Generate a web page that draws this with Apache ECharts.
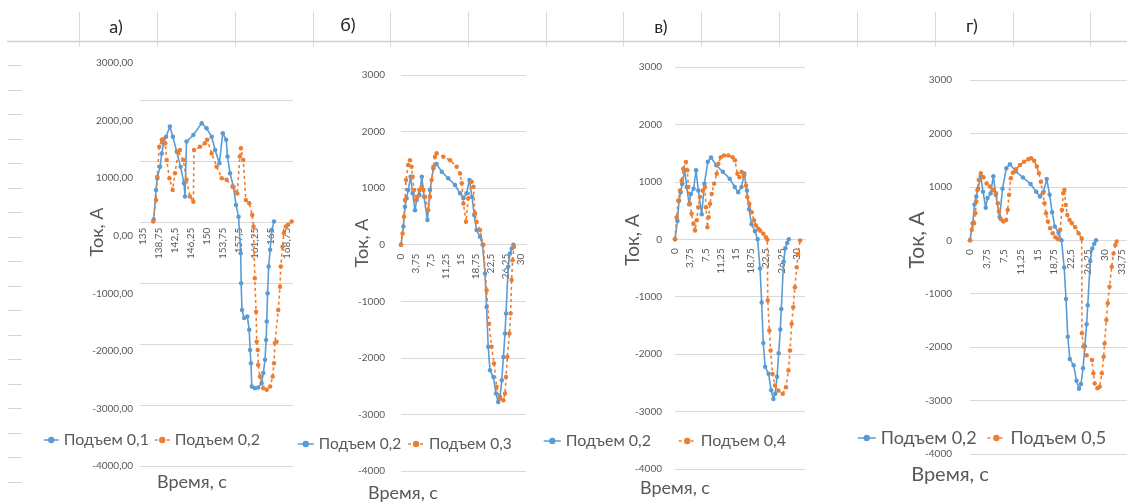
<!DOCTYPE html>
<html><head><meta charset="utf-8">
<script src="https://cdn.jsdelivr.net/npm/echarts@6/dist/echarts.min.js"></script>
<style>html,body{margin:0;padding:0;background:#fff}#c{width:1127px;height:502px}</style>
</head><body><div id="c"></div>
<script>
// ---------------- DATA ----------------
const panelLabels = ['а)', 'б)', 'в)', 'г)'];
const yTitle = 'Ток, А';
const xTitle = 'Время, с';
const yTicks = [-4000, -3000, -2000, -1000, 0, 1000, 2000, 3000];

// panel а): Подъем 0,1 and Подъем 0,2
const aName1 = 'Подъем 0,1';
const aTime1 = [137.5,138.05,138.35,139.0,139.4,139.8,140.4,141.3,142.0,142.9,143.8,144.6,144.85,145.2,146.8,148.75,149.9,151.1,151.9,152.9,153.7,154.5,154.8,155.4,156.2,156.8,157.4,157.9,158.0,158.2,158.7,159.45,159.9,160.1,160.3,160.5,161.25,162.0,162.8,163.2,163.6,163.85,164.0,164.2,164.45,164.8,165.2,165.7];
const aCur1  = [280,795,1000,1200,1430,1605,1720,1895,1720,1460,1200,910,680,1635,1750,1955,1865,1720,1490,1260,1780,1665,1375,1085,850,535,330,-305,-825,-1290,-1430,-1405,-1635,-1985,-2215,-2620,-2650,-2635,-2560,-2385,-2155,-1810,-1490,-1000,-535,-245,100,245];
const aName2 = 'Подъем 0,2';
const aTime2 = [137.4,138.05,138.35,138.8,139.4,139.75,140.2,140.55,141.2,141.95,142.5,143.25,143.65,144.45,145.2,146.0,146.8,146.95,148.35,149.5,150.05,151.1,152.25,153.45,154.6,156.0,157.1,157.7,157.95,158.5,159.1,159.9,160.6,160.9,161.2,161.5,161.65,161.9,162.0,162.4,163.2,164.0,164.8,165.4,165.7,165.9,166.3,166.7,167.1,167.3,167.7,168.0,168.5,169.0,169.85];
const aCur2  = [245,620,1025,1545,1665,1675,1605,1315,1000,795,1085,1460,1490,1315,970,680,590,1490,1545,1605,1665,1430,1200,1000,970,850,735,1375,1520,1315,620,565,360,160,-740,-1320,-1840,-1985,-2245,-2445,-2650,-2675,-2620,-2445,-2215,-1865,-1840,-1290,-885,-535,-190,45,160,190,245];

// Подъем 0,2 (common reference in б, в, г)
const refName = 'Подъем 0,2';
const refTime = [0,0.6,1.0,1.4,1.8,2.4,2.9,3.5,3.9,4.6,5.2,5.75,6.6,7.25,8.1,8.9,10.2,11.8,13.5,14.75,15.6,16.4,17.1,17.75,18.3,18.9,19.75,20.4,21.0,21.4,21.8,22.25,23.1,23.75,24.3,24.75,25.2,25.6,26.0,26.25,26.8,27.25,27.7,28.1];
const refCur  = [0,320,670,820,965,1200,910,610,790,880,1200,850,435,965,1350,1425,1290,1175,1055,910,820,910,1145,850,525,260,140,0,-510,-1100,-1805,-2220,-2340,-2630,-2780,-2690,-2395,-1985,-1570,-1215,-390,-155,-65,0];

// panel б): Подъем 0,3
const bName = 'Подъем 0,3';
const bTime = [0,0.4,0.75,1.0,1.25,1.8,2.25,2.65,2.9,3.25,3.6,4.1,4.6,5.2,5.6,6.0,6.8,7.25,7.65,8.1,8.5,8.9,10.6,12.25,13.9,14.75,15.2,15.6,16.25,16.8,17.65,18.1,18.5,18.9,19.75,20.6,21.4,22.0,22.65,23.25,23.9,24.75,25.6,26.0,26.25,26.6,27.1,27.4,27.65,27.9,28.25];
const bCur  = [0,200,495,790,1145,1410,1495,1380,1200,965,790,850,965,1025,965,850,610,850,1145,1380,1555,1615,1555,1495,1380,1260,1085,730,405,820,1115,1025,555,405,260,0,-805,-1395,-1805,-2100,-2515,-2720,-2750,-2630,-2340,-1985,-1570,-1215,-625,-275,-35];

// panel в): Подъем 0,4
const cName = 'Подъем 0,4';
const cTime = [0,0.4,0.8,1.25,1.65,2.05,2.7,3.05,3.3,3.7,4.1,4.55,4.95,5.35,5.75,6.15,6.85,7.4,7.65,8.0,8.3,8.65,9.05,9.65,10.3,10.7,11.3,12.1,13.15,14.25,14.8,15.4,15.9,16.45,17.05,17.55,17.85,18.35,18.95,19.5,20.0,20.55,21.0,21.8,22.45,22.8,22.9,23.3,23.6,24.1,24.7,25.5,26.6,27.4,28.0,28.4,28.8,29.2,29.6,30.05,30.4,30.9];
const cCur  = [0,385,675,850,1025,1230,1345,1200,910,620,445,270,155,330,560,735,850,910,560,210,385,620,790,965,1140,1315,1430,1460,1460,1430,1375,1140,1080,1170,1110,935,735,620,470,330,240,185,155,95,35,-10,-1065,-1590,-1935,-2345,-2545,-2635,-2690,-2575,-2285,-1935,-1470,-1185,-835,-485,-255,-20];

// panel г): Подъем 0,5
const dName = 'Подъем 0,5';
const dTime = [0,0.4,0.9,1.2,1.4,1.65,1.95,2.4,3.0,3.7,4.45,5.2,5.8,6.2,6.45,6.9,7.45,8.05,8.4,8.7,9.1,9.55,10.25,11.15,12.05,13.0,13.6,14.3,14.9,15.35,15.8,16.2,16.6,16.95,17.35,17.85,18.45,19.05,19.65,20.1,20.5,20.8,21.05,21.35,21.7,22.2,22.7,23.45,24.2,24.9,24.95,25.3,26.0,27.2,27.5,27.8,28.4,28.9,29.4,29.8,30.0,30.4,30.7,31.1,31.6,32.0,32.4,32.7];
const dCur  = [0,195,320,505,725,940,1130,1255,1180,1065,1005,940,880,695,535,395,350,380,565,850,1160,1265,1330,1410,1470,1515,1535,1490,1380,1255,1095,880,695,505,350,225,130,55,20,195,565,880,940,660,475,380,320,245,130,35,-1740,-1990,-2150,-2240,-2490,-2680,-2770,-2740,-2490,-2180,-1930,-1490,-1180,-870,-495,-245,-90,-25];

// ---------------- RENDER ----------------
const FONT = 'Lato, "Open Sans", sans-serif';
const GRAY = '#595959';
const GRID = '#D9D9D9';
const BLUE = '#5B9BD5';
const ORANGE = '#ED7D31';
const DASH = [3, 3];
const zip = (t, v) => t.map((x, i) => [x, v[i]]);
const comma = s => String(s).replace('.', ',');
const xFmt = v => { const k = v / 3.75; return Math.abs(k - Math.round(k)) > 1e-6 ? '' : comma(+v.toFixed(2)); };
const yMin = yTicks[0], yMax = yTicks[yTicks.length - 1];

// layout (pixels)
const L = [
  { left: 143, width: 150.4, top: 63, height: 403, xmin: 135, xmax: 170.25, yMargin: 10, xMargin: -8, yFmt: v => v.toFixed(2).replace('.', ',') },
  { left: 401, width: 125, top: 75, height: 396, xmin: 0, xmax: 31.25, yMargin: 16, xMargin: 9, yFmt: v => String(v) },
  { left: 675, width: 130, top: 67, height: 402, xmin: 0, xmax: 32.1, yMargin: 13, xMargin: 9, yFmt: v => String(v) },
  { left: 970, width: 157, top: 80, height: 374, xmin: 0, xmax: 35, yMargin: 18, xMargin: 9, yFmt: v => String(v) }
];

const grids = L.map(p => ({ left: p.left, top: p.top, width: p.width, height: p.height, containLabel: false }));
// extra grid for the panel а) gridlines
grids.push({ left: 140, top: 100, width: 153, height: 366 });

const xAxes = L.map((p, i) => ({
  gridIndex: i, type: 'value', min: p.xmin, max: p.xmax, interval: 3.75,
  position: 'bottom',
  offset: -p.height * (0 - yMin) / (yMax - yMin),
  axisLine: { show: i !== 0, onZero: false, lineStyle: { color: GRID } },
  axisTick: { show: false }, splitLine: { show: false },
  axisLabel: { rotate: 90, fontSize: 10, color: GRAY, fontFamily: FONT, margin: p.xMargin, formatter: xFmt, showMaxLabel: false }
}));
xAxes.push({ gridIndex: 4, type: 'value', min: 0, max: 1, show: false });

const yAxes = L.map((p, i) => ({
  gridIndex: i, type: 'value', min: yMin, max: yMax, interval: 1000,
  axisLine: { show: false, onZero: false }, axisTick: { show: false },
  splitLine: { show: i !== 0, lineStyle: { color: GRID, width: 1 } },
  axisLabel: { fontSize: 10, color: GRAY, fontFamily: FONT, margin: p.yMargin, formatter: p.yFmt }
}));
yAxes.push({ gridIndex: 4, type: 'value', min: -4000, max: 2000, interval: 1000,
  axisLine: { show: false, onZero: false }, axisTick: { show: false }, axisLabel: { show: false },
  splitLine: { show: true, lineStyle: { color: GRID, width: 1 } } });

function mk(name, t, v, idx, color, dashed) {
  return {
    type: 'line', name, xAxisIndex: idx, yAxisIndex: idx, data: zip(t, v),
    symbol: 'circle', symbolSize: 4.5, showSymbol: true, animation: false,
    lineStyle: { width: 1.6, color, type: dashed ? DASH : 'solid' },
    itemStyle: { color }
  };
}
const series = [
  mk(aName1, aTime1, aCur1, 0, BLUE, false),
  mk(aName2, aTime2, aCur2, 0, ORANGE, true),
  mk(refName, refTime, refCur, 1, BLUE, false),
  mk(bName, bTime, bCur, 1, ORANGE, true),
  mk(refName, refTime, refCur, 2, BLUE, false),
  mk(cName, cTime, cCur, 2, ORANGE, true),
  mk(refName, refTime, refCur, 3, BLUE, false),
  mk(dName, dTime, dCur, 3, ORANGE, true)
];

const blueItem = n => ({ name: n, itemStyle: { color: BLUE }, lineStyle: { color: BLUE, type: 'solid', width: 1.5 } });
const orangeItem = n => ({ name: n, itemStyle: { color: ORANGE }, lineStyle: { color: ORANGE, type: DASH, width: 1.5 } });
function lg(left, top, names, fs, gap, iw) {
  return { left, top, itemWidth: iw, itemHeight: 8, itemGap: gap,
    data: [blueItem(names[0]), orangeItem(names[1])],
    textStyle: { fontSize: fs, color: GRAY, fontFamily: FONT } };
}
const legends = [
  lg(38, 427, [aName1, aName2], 16, 5, 15),
  lg(292, 431, [refName, bName], 15.5, 6, 16),
  lg(538, 428, [refName, cName], 16, 27, 17),
  lg(852, 424, [refName, dName], 18, 10, 18)
];

// decorations: sheet grid strip, panel labels, left row marks, axis titles
const g = [];
g.push({ type: 'line', shape: { x1: 7, y1: 41.5, x2: 1127, y2: 41.5 }, style: { stroke: '#D0D0D0', lineWidth: 1.5 } });
[79,157,235,313,390,468,546,623,701,779,857,935,1013,1090].forEach(x => {
  g.push({ type: 'line', shape: { x1: x + 0.5, y1: 12, x2: x + 0.5, y2: 47 }, style: { stroke: '#DADADA', lineWidth: 1 } });
});
[[116, 27], [348, 25], [661, 27], [972, 26]].forEach((p, i) => {
  g.push({ type: 'text', x: p[0], y: p[1], style: { text: panelLabels[i], font: '18px ' + FONT, fill: '#262626', align: 'center', verticalAlign: 'middle' } });
});
for (let k = 0; k < 18; k++) {
  const y = Math.round(65 + 24.5 * k) + 0.5;
  g.push({ type: 'line', shape: { x1: 8, y1: y, x2: 22, y2: y }, style: { stroke: '#D4D4D4', lineWidth: 1 } });
}
[[97, 232, 18], [362, 243, 18], [633, 240, 19], [917, 240, 21]].forEach(p => {
  g.push({ type: 'text', x: p[0], y: p[1], rotation: Math.PI / 2, style: { text: yTitle, font: p[2] + 'px ' + FONT, fill: GRAY, align: 'center', verticalAlign: 'middle' } });
});
[[192, 482, 18], [403, 493, 18], [675, 488, 18], [950, 475, 20]].forEach(p => {
  g.push({ type: 'text', x: p[0], y: p[1], style: { text: xTitle, font: p[2] + 'px ' + FONT, fill: GRAY, align: 'center', verticalAlign: 'middle' } });
});

const chart = echarts.init(document.getElementById('c'), null, { renderer: 'canvas' });
chart.setOption({
  animation: false,
  backgroundColor: '#ffffff',
  textStyle: { fontFamily: FONT },
  grid: grids, xAxis: xAxes, yAxis: yAxes, series, legend: legends, graphic: g
});
</script></body></html>
